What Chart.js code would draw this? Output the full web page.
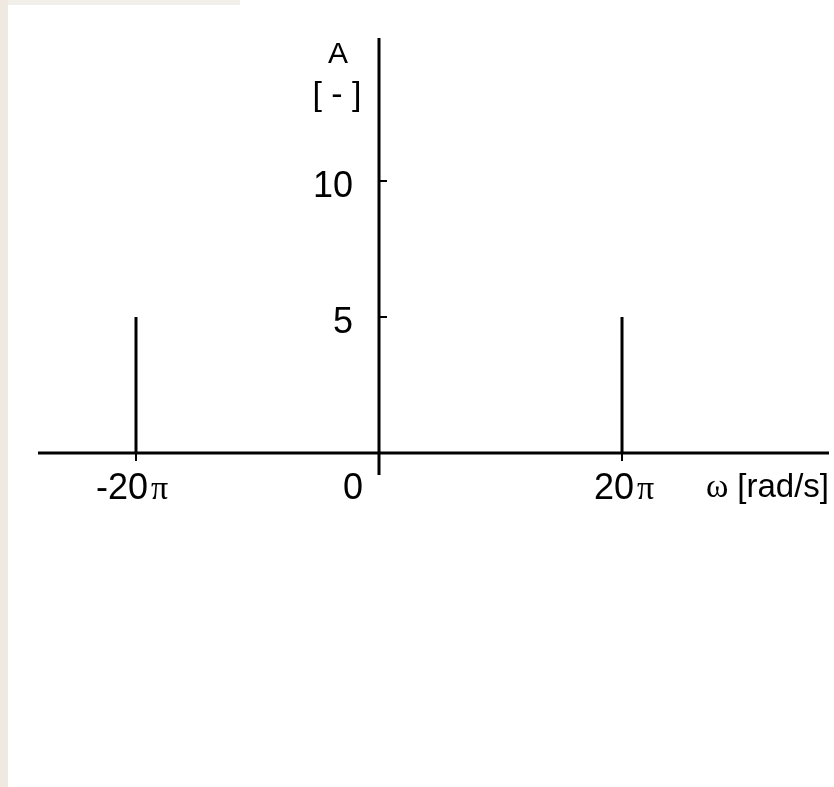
<!DOCTYPE html>
<html>
<head>
<meta charset="utf-8">
<script src="https://cdn.jsdelivr.net/npm/chart.js@4.4.1/dist/chart.umd.min.js"></script>
<style>
  html, body { margin: 0; padding: 0; background: #fff; }
  #wrap {
    width: 834px; height: 787px; position: relative;
    background:
      linear-gradient(to right, #efe9e2 0, #efe9e2 8px, transparent 8px),
      linear-gradient(#f2eee9 0, #f2eee9 5px, transparent 5px) 0 0 / 240px 787px no-repeat,
      #fff;
  }
</style>
</head>
<body>
<div id="wrap"><canvas id="myChart" width="834" height="787"></canvas></div>
<script>
const PI20 = 20 * Math.PI;

// spectral lines (frequency in rad/s, amplitude)
const freqs = [-PI20, PI20];
const amps = [5, 5];

// axis ticks
const xTickValues = [-PI20, 0, PI20];
const xTickLabels = ["-20π", "0", "20π"];
const yTickValues = [5, 10];
const yTickLabels = ["5", "10"];

const xTitle = ["ω", "[rad/s]"];
const yTitle = ["A", "[ - ]"];

const NUM_FONT = '36px "Liberation Sans", Arial, sans-serif';
const PI_FONT = '34px "Liberation Serif", "DejaVu Serif", serif';

// draws the axes through the origin, like a hand-drawn plot
const crossAxes = {
  id: "crossAxes",
  beforeDatasetsDraw(chart) {
    const { ctx, chartArea, scales } = chart;
    const x0 = scales.x.getPixelForValue(0);
    const y0 = scales.y.getPixelForValue(0);
    ctx.save();
    ctx.strokeStyle = "#000";
    ctx.fillStyle = "#000";
    ctx.lineCap = "butt";

    // main axes
    ctx.lineWidth = 3;
    ctx.beginPath();
    ctx.moveTo(chartArea.left, y0);
    ctx.lineTo(chartArea.right, y0);
    ctx.moveTo(x0, chartArea.top);
    ctx.lineTo(x0, chartArea.bottom);
    ctx.stroke();

    // tick marks
    ctx.lineWidth = 2;
    ctx.beginPath();
    yTickValues.forEach((v) => {
      const y = scales.y.getPixelForValue(v);
      ctx.moveTo(x0, y);
      ctx.lineTo(x0 + 8, y);
    });
    xTickValues.forEach((v) => {
      if (v === 0) return;
      const x = scales.x.getPixelForValue(v);
      ctx.moveTo(x, y0);
      ctx.lineTo(x, y0 + 8);
    });
    ctx.stroke();

    // y tick labels
    ctx.font = NUM_FONT;
    ctx.textAlign = "right";
    ctx.textBaseline = "alphabetic";
    yTickValues.forEach((v, i) => {
      const y = scales.y.getPixelForValue(v);
      ctx.fillText(yTickLabels[i], x0 - 26, y + 16);
    });

    // x tick labels (number part + pi)
    xTickValues.forEach((v, i) => {
      const x = scales.x.getPixelForValue(v);
      const lab = xTickLabels[i];
      const hasPi = lab.endsWith("π");
      const num = hasPi ? lab.slice(0, -1) : lab;
      ctx.font = NUM_FONT;
      ctx.textAlign = "right";
      if (v === 0) {
        ctx.fillText(num, x - 16, y0 + 46);
      } else {
        ctx.fillText(num, x + 12, y0 + 46);
      }
      if (hasPi) {
        ctx.font = PI_FONT;
        ctx.textAlign = "left";
        ctx.fillText("π", x + 15, y0 + 46);
      }
    });

    // x axis title
    ctx.textAlign = "right";
    ctx.font = '33px "Liberation Sans", Arial, sans-serif';
    ctx.fillText(xTitle[1], chartArea.right, y0 + 44);
    const w = ctx.measureText(xTitle[1]).width;
    ctx.font = '34px "Liberation Serif", "DejaVu Serif", serif';
    ctx.fillText(xTitle[0], chartArea.right - w - 9, y0 + 44);

    // y axis title
    ctx.textAlign = "center";
    ctx.font = '30px "Liberation Sans", Arial, sans-serif';
    ctx.fillText(yTitle[0], x0 - 41, 63);
    ctx.font = '34px "Liberation Sans", Arial, sans-serif';
    ctx.fillText(yTitle[1], x0 - 42, 105);

    ctx.restore();
  }
};

const datasets = freqs.map((f, i) => ({
  label: "line " + (i + 1),
  data: [{ x: f, y: 0 }, { x: f, y: amps[i] }],
  borderColor: "#000",
  borderWidth: 3,
  pointRadius: 0,
  borderCapStyle: "butt"
}));

new Chart(document.getElementById("myChart"), {
  type: "line",
  data: { datasets },
  options: {
    responsive: false,
    animation: false,
    layout: { padding: { left: 38, right: 5, top: 38, bottom: 312 } },
    plugins: { legend: { display: false }, tooltip: { enabled: false } },
    scales: {
      x: { type: "linear", display: false, min: -88.17, max: 116.35 },
      y: { type: "linear", display: false, min: -0.81, max: 15.26 }
    }
  },
  plugins: [crossAxes]
});
</script>
</body>
</html>
